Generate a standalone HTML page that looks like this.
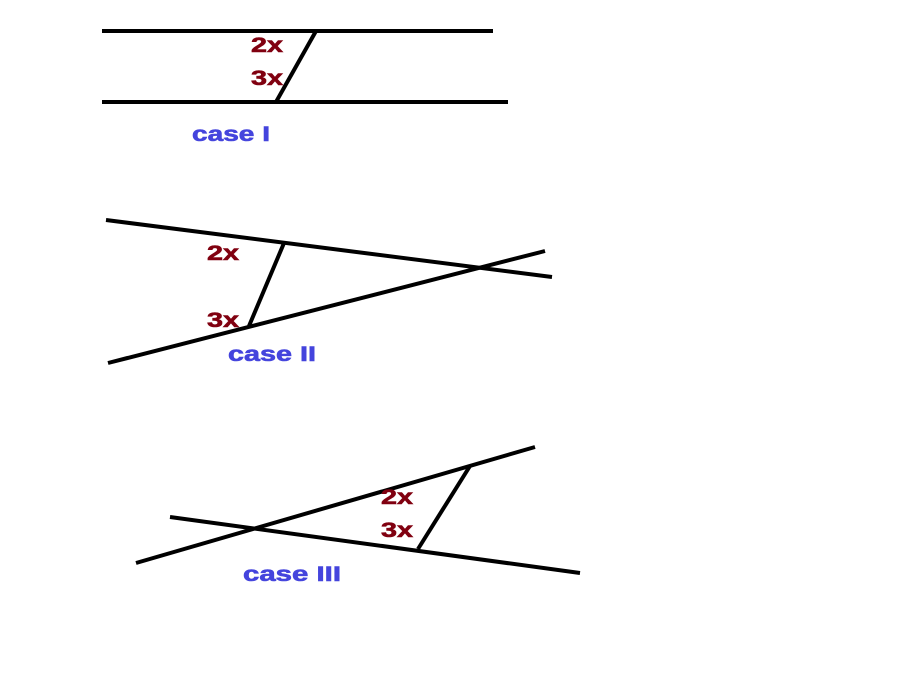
<!DOCTYPE html>
<html><head><meta charset="utf-8"><style>html,body{margin:0;padding:0;background:#fff;width:922px;height:682px;overflow:hidden}</style></head>
<body>
<svg width="922" height="682" viewBox="0 0 922 682" xmlns="http://www.w3.org/2000/svg">
<g stroke="#000" stroke-width="4" stroke-linecap="butt" fill="none">
<line x1="102" y1="31" x2="493" y2="31"/>
<line x1="102" y1="102" x2="508" y2="102"/>
<line x1="316" y1="31" x2="276" y2="102"/>
<line x1="106" y1="220" x2="552" y2="277"/>
<line x1="108" y1="363" x2="545" y2="251"/>
<line x1="284" y1="243" x2="249" y2="326"/>
<line x1="136" y1="563" x2="535" y2="447"/>
<line x1="170" y1="517" x2="580" y2="573"/>
<line x1="470" y1="466" x2="418" y2="549"/>
</g>
<g font-family="Liberation Sans, sans-serif" font-weight="bold" font-size="21" lengthAdjust="spacingAndGlyphs" stroke-width="0.6">
<g fill="#800010" stroke="#800010">
<text x="251" y="52" textLength="32" lengthAdjust="spacingAndGlyphs">2x</text>
<text x="251" y="85" textLength="32" lengthAdjust="spacingAndGlyphs">3x</text>
<text x="207" y="260" textLength="32" lengthAdjust="spacingAndGlyphs">2x</text>
<text x="207" y="327" textLength="32" lengthAdjust="spacingAndGlyphs">3x</text>
<text x="381" y="504" textLength="32" lengthAdjust="spacingAndGlyphs">2x</text>
<text x="381" y="537" textLength="32" lengthAdjust="spacingAndGlyphs">3x</text>
</g>
<g fill="#4444dd" stroke="#4444dd">
<text x="192" y="141" textLength="78" lengthAdjust="spacingAndGlyphs">case I</text>
<text x="228" y="361" textLength="88" lengthAdjust="spacingAndGlyphs">case II</text>
<text x="243" y="581" textLength="98" lengthAdjust="spacingAndGlyphs">case III</text>
</g>
</g>
</svg>
</body></html>
